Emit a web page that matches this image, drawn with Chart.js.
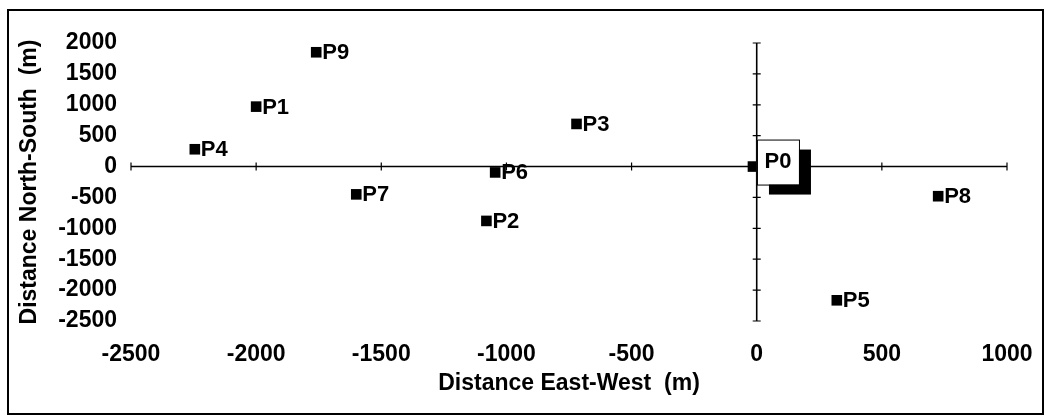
<!DOCTYPE html>
<html>
<head>
<meta charset="utf-8">
<title>Distance chart</title>
<script src="https://cdn.jsdelivr.net/npm/chart.js@4.4.0/dist/chart.umd.min.js"></script>
<style>
  html, body { margin: 0; padding: 0; background: #fff; }
  #wrap { position: relative; width: 1046px; height: 416px; }
  #frame {
    position: absolute; left: 7px; top: 9px; width: 1037px; height: 406px;
    border: 2px solid #000; box-sizing: border-box; pointer-events: none;
  }
</style>
</head>
<body>
<div id="wrap">
  <canvas id="myChart" width="1046" height="416"></canvas>
  <div id="frame"></div>
</div>
<script>
// point names + positions (m)
var names = ["P0", "P1", "P2", "P3", "P4", "P5", "P6", "P7", "P8", "P9"];
var eastWest = [-15, -2000, -1080, -720, -2245, 320, -1045, -1600, 725, -1760];
var northSouth = [0, 970, -880, 690, 280, -2165, -95, -450, -480, 1850];

// tick labels
var xTicks = [-2500, -2000, -1500, -1000, -500, 0, 500, 1000];
var yTicks = [2000, 1500, 1000, 500, 0, -500, -1000, -1500, -2000, -2500];

Chart.defaults.font.family = "'Liberation Sans', Arial, sans-serif";
Chart.defaults.color = "#000";

var points = names.map(function (n, i) {
  return { x: eastWest[i], y: northSouth[i] };
});

// axes crossing at 0,0 with small tick marks
var crossAxes = {
  id: "crossAxes",
  beforeDatasetsDraw: function (chart) {
    var ctx = chart.ctx;
    var xs = chart.scales.x;
    var ys = chart.scales.y;
    var x0 = xs.getPixelForValue(0);
    var y0 = ys.getPixelForValue(0);
    ctx.save();
    ctx.strokeStyle = "#000";
    ctx.lineWidth = 1.6;
    ctx.beginPath();
    ctx.moveTo(xs.getPixelForValue(xTicks[0]), y0);
    ctx.lineTo(xs.getPixelForValue(xTicks[xTicks.length - 1]), y0);
    ctx.moveTo(x0, ys.getPixelForValue(yTicks[0]));
    ctx.lineTo(x0, ys.getPixelForValue(yTicks[yTicks.length - 1]));
    ctx.stroke();
    ctx.lineWidth = 1.2;
    ctx.beginPath();
    xTicks.forEach(function (v) {
      var px = xs.getPixelForValue(v);
      ctx.moveTo(px, y0 - 4);
      ctx.lineTo(px, y0 + 4);
    });
    yTicks.forEach(function (v) {
      var py = ys.getPixelForValue(v);
      ctx.moveTo(x0 - 4, py);
      ctx.lineTo(x0 + 4, py);
    });
    ctx.stroke();
    ctx.restore();
  }
};

// point labels, P0 gets the boxed label
var pointLabels = {
  id: "pointLabels",
  afterDatasetsDraw: function (chart) {
    var ctx = chart.ctx;
    var meta = chart.getDatasetMeta(0);
    ctx.save();
    ctx.font = "bold 22px 'Liberation Sans', Arial, sans-serif";
    ctx.textBaseline = "middle";
    meta.data.forEach(function (el, i) {
      if (i === 0) {
        var bx = el.x + 4, by = el.y - 27, bw = 42, bh = 45;
        ctx.fillStyle = "#000";
        ctx.fillRect(bx + 12, by + 10, bw, bh);
        ctx.fillStyle = "#fff";
        ctx.fillRect(bx, by, bw, bh);
        ctx.strokeStyle = "#000";
        ctx.lineWidth = 1;
        ctx.strokeRect(bx + 0.5, by + 0.5, bw, bh);
        ctx.fillStyle = "#000";
        ctx.textAlign = "center";
        ctx.fillText(names[i], bx + bw / 2, by + bh / 2);
      } else {
        ctx.fillStyle = "#000";
        ctx.textAlign = "left";
        ctx.fillText(names[i], el.x + 6, el.y + 1);
      }
    });
    ctx.restore();
  }
};

function plain(v) { return String(v); }

const ctx = document.getElementById("myChart");
new Chart(ctx, {
  type: "scatter",
  data: {
    datasets: [
      {
        label: "points",
        data: points,
        pointStyle: "rect",
        pointRadius: 7.5,
        pointHoverRadius: 7.5,
        backgroundColor: "#000",
        borderColor: "#000",
        borderWidth: 0
      }
    ]
  },
  options: {
    responsive: false,
    animation: false,
    devicePixelRatio: 1,
    layout: { padding: { left: 0, top: 43, right: 39, bottom: 0 } },
    plugins: {
      legend: { display: false },
      tooltip: { enabled: false }
    },
    scales: {
      x: {
        type: "linear",
        position: "bottom",
        min: -2500,
        max: 1000,
        afterBuildTicks: function (scale) {
          scale.ticks = xTicks.map(function (v) { return { value: v }; });
        },
        afterFit: function (scale) {
          scale.height = 95;
          scale.paddingLeft = 0;
          scale.paddingRight = 0;
        },
        grid: { display: false, drawTicks: false },
        border: { display: false },
        ticks: { font: { size: 23, weight: "bold" }, padding: 20, maxRotation: 0, callback: plain },
        title: {
          display: true,
          text: "Distance East-West  (m)",
          font: { size: 23, weight: "bold" },
          padding: { top: 0, bottom: 19 }
        }
      },
      y: {
        type: "linear",
        position: "left",
        min: -2500,
        max: 2000,
        afterBuildTicks: function (scale) {
          scale.ticks = yTicks.map(function (v) { return { value: v }; });
        },
        afterFit: function (scale) {
          scale.width = 131;
          scale.paddingTop = 0;
          scale.paddingBottom = 0;
        },
        grid: { display: false, drawTicks: false },
        border: { display: false },
        ticks: { font: { size: 23, weight: "bold" }, padding: 14, callback: plain },
        title: {
          display: true,
          text: "Distance North-South  (m)",
          font: { size: 23, weight: "bold" },
          padding: { top: 16, bottom: 0 }
        }
      }
    }
  },
  plugins: [crossAxes, pointLabels]
});
</script>
</body>
</html>
